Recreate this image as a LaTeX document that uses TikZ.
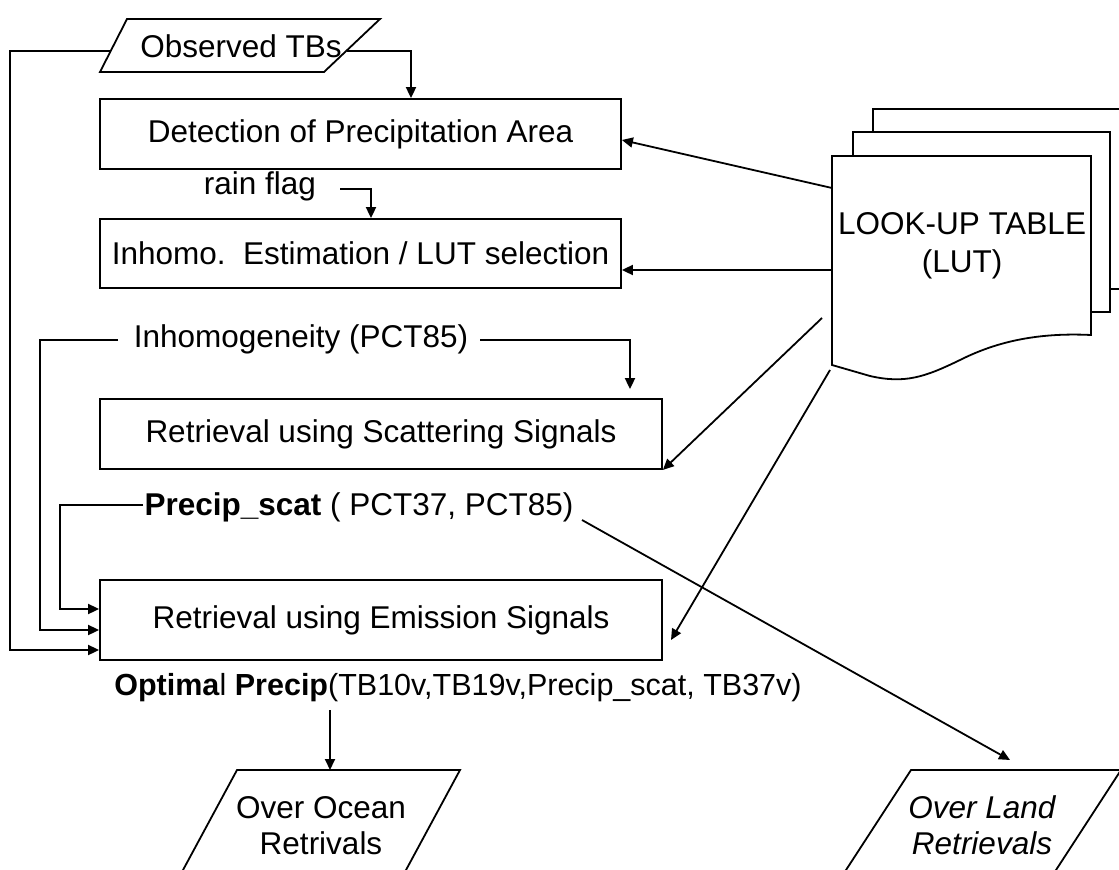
\documentclass[tikz,border=0pt]{standalone}
\usepackage{fontspec}
\setmainfont{Liberation Sans}
\usetikzlibrary{arrows.meta}
\begin{document}
\begin{tikzpicture}[x=1pt,y=-1pt,line width=1.8pt,
  lbl/.style={font=\fontsize{31.5}{36}\selectfont, inner sep=0pt},
  box/.style={draw, lbl, line width=1.8pt},
  arr/.style={-{Triangle[length=11pt,width=10pt]}}]
\useasboundingbox (0,0) rectangle (1119,870);
\clip (0,0) rectangle (1119,870);

% boxes
\node[box, minimum width=521pt, minimum height=70pt] (det) at (360.5,134) {Detection of Precipitation Area};
\node[box, minimum width=521pt, minimum height=69pt] (inh) at (360.5,253.5) {Inhomo.\ \ Estimation / LUT selection};
\node[box, minimum width=562pt, minimum height=70pt] (sca) at (381,434) {Retrieval using Scattering Signals};
\node[box, minimum width=562pt, minimum height=80pt] (emi) at (381,620) {Retrieval using Emission Signals};

% Observed TBs
\draw (127,19) -- (380,19) -- (324,72) -- (100,72) -- cycle;
\node[lbl] (obs) at (241,46) {Observed TBs};
\coordinate (obsL) at (110,51);
\coordinate (obsR) at (347,51);
\draw[arr] (obsR) -| (411,0 |- det.north);
\draw[arr] (obsL) -- (10,51) |- (emi.west |- 0,650);

% rain flag
\node[lbl] (rf) at (260,186) {rain flag};
\coordinate (rfR) at (340,189);
\draw[arr] (rfR) -| (371,0 |- inh.north);

% inhomogeneity
\node[lbl] (ihg) at (301,339) {Inhomogeneity (PCT85)};
\coordinate (ihgL) at (118,340);
\coordinate (ihgR) at (480,340);
\draw[arr] (ihgL) -- (40,340) |- (emi.west |- 0,630);
\draw[arr, shorten >=9pt] (ihgR) -| (630,0 |- sca.north);

% precip scat
\node[lbl] (ps) at (359,507) {\textbf{Precip\_scat} ( PCT37, PCT85)};
\coordinate (psL) at (143,505);
\coordinate (psR) at (582,520);
\draw[arr] (psL) -- (60,505) |- (emi.west |- 0,609);

% optimal
\node[lbl, font=\fontsize{30.5}{36}\selectfont] (op) at (458,688) {\textbf{Optima}l \textbf{Precip}(TB10v,TB19v,Precip\_scat, TB37v)};
\coordinate (opB) at (330,710);

% outputs
\draw (237,770) -- (460,770) -- (400.6,880) -- (177.6,880) -- cycle;
\node[lbl, align=center] (oce) at (321,826) {Over Ocean\\Retrivals};
\coordinate (oceT) at (330,770);
\draw (911,770) -- (1121,770) -- (1049.5,880) -- (839.5,880) -- cycle;
\node[lbl, align=center, font=\fontsize{31.5}{36}\selectfont\itshape] (land) at (982,825) {Over Land\\Retrievals};
\coordinate (landT) at (1010,770);

\draw[arr] (opB) -- (oceT);
\draw[arr] (psR) -- ([yshift=10pt]landT);

% LUT stack
\draw[fill=white] (873,109) rectangle (1140,289);
\draw[fill=white] (853,132) rectangle (1110,312);
\draw[fill=white] (832,156) -- (1091,156) -- (1091,335)
  .. controls (1030,332) and (990,345) .. (960,360)
  .. controls (925,377) and (905,384) .. (870,376) -- (832,365) -- cycle;
\node[lbl, align=center, font=\fontsize{31.5}{38}\selectfont] (lut) at (962,246) {LOOK-UP TABLE\\(LUT)};
\coordinate (lutA) at (832,188);
\coordinate (lutB) at (832,270);
\coordinate (lutC) at (822,318);
\coordinate (lutD) at (830,370);
\coordinate (emiR) at (671,640);

\draw[arr] (lutA) -- (det.east |- 0,140);
\draw[arr] (lutB) -- (inh.east |- 0,270);
\draw[arr] (lutC) -- (sca.south east);
\draw[arr] (lutD) -- (emiR);
\end{tikzpicture}
\end{document}
